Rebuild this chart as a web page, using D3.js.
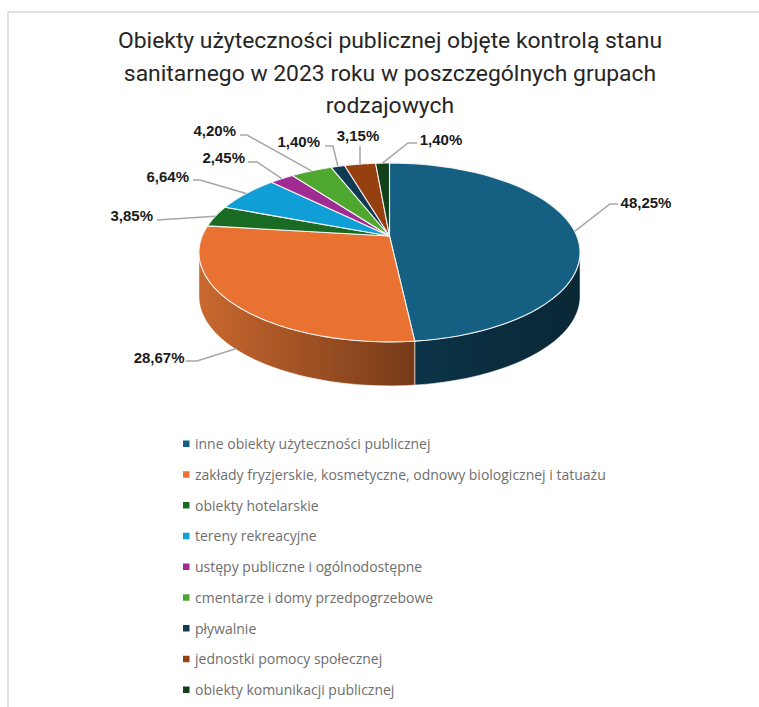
<!DOCTYPE html>
<html><head><meta charset="utf-8">
<script src="https://cdn.jsdelivr.net/npm/d3@7/dist/d3.min.js"></script>
<style>html,body{margin:0;padding:0;background:#fff}svg{display:block}</style>
</head><body><svg id="c" width="759" height="707"></svg>
<script>
const titleLines = ["Obiekty użyteczności publicznej objęte kontrolą stanu","sanitarnego w 2023 roku w poszczególnych grupach","rodzajowych"];
const categories = ["inne obiekty użyteczności publicznej","zakłady fryzjerskie, kosmetyczne, odnowy biologicznej i tatuażu","obiekty hotelarskie","tereny rekreacyjne","ustępy publiczne i ogólnodostępne","cmentarze i domy przedpogrzebowe","pływalnie","jednostki pomocy społecznej","obiekty komunikacji publicznej"];
const values = [48.25,28.67,3.85,6.64,2.45,4.20,1.40,3.15,1.40];
const colors = ["#156082","#e97132","#196b24","#0f9ed5","#a02b93","#4ea72e","#0f3a52","#964011","#12401a"];

// layout (separate from the data)
const apexX=389.5, apexY=236, scaleU=187.3, scaleV=86.4, persp=0.184, depth=44;
const labelLayout = [
 {x:646,y:207.5,anchor:"middle",line:[[618,204],[610,204]],dz:0},
 {x:184.5,y:363,anchor:"end",line:[[186,361],[197,361]],dz:.97},
 {x:153,y:221,anchor:"end",line:[[157,220]],dz:0},
 {x:189,y:182,anchor:"end",line:[[193,180],[200,180]],dz:0},
 {x:245,y:163,anchor:"end",line:[[248,162],[257,162]],dz:0},
 {x:236,y:136,anchor:"end",line:[[240,135],[247,135]],dz:0},
 {x:320,y:147,anchor:"end",line:[[325,146],[333,146]],dz:0},
 {x:358,y:141,anchor:"middle",line:[[360,146]],dz:0},
 {x:441,y:145,anchor:"middle",line:[[417,143],[408,143]],dz:0}
];

const svg=d3.select("#c");
svg.append("path").attr("d","M8 707V12H759").attr("fill","none").attr("stroke","#d9d9d9").attr("stroke-width",1.5);

svg.append("g").selectAll("text").data(titleLines).join("text")
  .attr("x",390).attr("y",(d,i)=>48+i*32.5).attr("text-anchor","middle")
  .attr("font-family","Roboto").attr("font-size",22.9).attr("fill","#262626").text(d=>d);

const arcs=d3.pie().sort(null).value(d=>d)(values);

// projection of the pie's circle seen in perspective
const pt=(a,dz=0)=>{
  const u=Math.sin(a), v=-Math.cos(a), w=1-persp*v;
  return [apexX+scaleU*u/w, apexY+scaleV*v/w+dz];
};
const sampled=(a0,a1,n=60)=>d3.range(0,n+1).map(k=>a0+(a1-a0)*k/n);
const line=d3.line();

// the wall is visible between the rim's left- and rightmost points
const wallStart=Math.PI-Math.acos(persp), wallEnd=Math.PI+Math.acos(persp);

const defs=svg.append("defs");
const wallStops=[["#0b3347","#0a2735"],["#c9682f","#763a18"],["#196b24","#0f4016"],["#0f9ed5","#0a6a90"],["#a02b93","#6c1d63"],["#4ea72e","#34701f"],["#0f3a52","#0a2736"],["#964011","#642b0b"],["#12401a","#0c2b11"]];
arcs.forEach((d,i)=>{
  const a0=Math.max(d.startAngle,wallStart), a1=Math.min(d.endAngle,wallEnd);
  if(a1<=a0) return;
  const xs=[pt(a0)[0],pt(a1)[0]];
  const g=defs.append("linearGradient").attr("id","w"+i).attr("gradientUnits","userSpaceOnUse")
    .attr("x1",d3.min(xs)).attr("x2",d3.max(xs)).attr("y1",0).attr("y2",0);
  g.append("stop").attr("offset",0).attr("stop-color",wallStops[i][0]);
  g.append("stop").attr("offset",1).attr("stop-color",wallStops[i][1]);
});

const wall=d=>{
  const a0=Math.max(d.startAngle,wallStart), a1=Math.min(d.endAngle,wallEnd);
  if(a1<=a0) return null;
  const as=sampled(a0,a1);
  return line(as.map(a=>pt(a)).concat(as.slice().reverse().map(a=>pt(a,depth))))+"Z";
};
svg.append("g").selectAll("path").data(arcs).join("path")
  .attr("d",wall).attr("fill",(d,i)=>`url(#w${i})`).attr("stroke","#fff").attr("stroke-opacity",.7).attr("stroke-width",.8);

// top faces
const face=d=>line([[apexX,apexY]].concat(sampled(d.startAngle,d.endAngle).map(a=>pt(a))))+"Z";
svg.append("g").selectAll("path").data(arcs).join("path")
  .attr("d",face).attr("fill",(d,i)=>colors[i])
  .attr("stroke","#f2f2f2").attr("stroke-width",1.1).attr("stroke-linejoin","round");

// leader lines
const anchorAt=(d,i)=>pt((d.startAngle+d.endAngle)/2,depth*labelLayout[i].dz);
svg.append("g").selectAll("polyline").data(arcs).join("polyline")
  .attr("points",(d,i)=>labelLayout[i].line.concat([anchorAt(d,i)]).join(" "))
  .attr("fill","none").attr("stroke","#a6a6a6").attr("stroke-width",1.5);

// data labels
svg.append("g").selectAll("text").data(values).join("text")
  .attr("x",(d,i)=>labelLayout[i].x).attr("y",(d,i)=>labelLayout[i].y)
  .attr("text-anchor",(d,i)=>labelLayout[i].anchor)
  .attr("font-family","'Liberation Sans'").attr("font-weight","bold").attr("font-size",15).attr("fill","#1a1a1a")
  .text(d=>d.toFixed(2).replace(".",",")+"%");

// legend
const ly=d3.scalePoint().domain(categories).range([444,690]);
const lg=svg.append("g").selectAll("g").data(categories).join("g").attr("transform",d=>`translate(183,${ly(d)})`);
lg.append("rect").attr("x",0).attr("y",-3.5).attr("width",6.5).attr("height",6.5).attr("fill",(d,i)=>colors[i]);
lg.append("text").attr("x",12).attr("y",5).attr("font-family","'Open Sans'").attr("font-size",14).attr("fill","#6e6e6e").text(d=>d);
</script></body></html>
